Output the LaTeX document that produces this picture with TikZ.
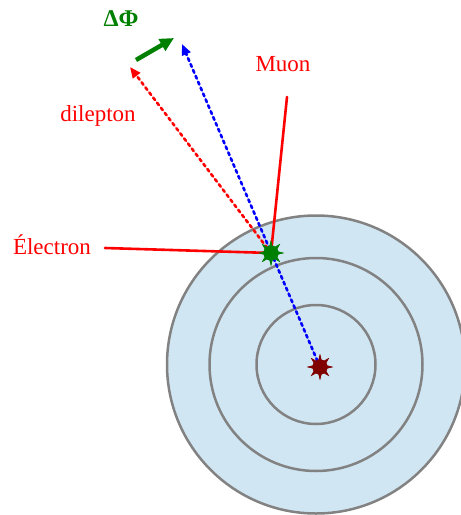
\documentclass[tikz,border=0pt]{standalone}
\usepackage{fontspec}
\setmainfont{Liberation Serif}
\usetikzlibrary{shapes.geometric,arrows.meta}
\definecolor{detfill}{HTML}{D1E6F3}
\definecolor{detline}{HTML}{828282}
\definecolor{vtxred}{HTML}{800000}
\definecolor{vtxgreen}{HTML}{008000}
\tikzset{
  vertex/.style={star, star points=8, star point ratio=2.4, minimum size=26pt, inner sep=0pt, fill=#1},
  core/.style={circle, minimum size=15pt, inner sep=0pt, fill=#1},
  lbl/.style={text=red, font=\fontsize{23}{26}\selectfont},
  track/.style={line width=2.6pt, dash pattern=on 3pt off 3.4pt, -{Triangle[length=11pt,width=9pt]}}
}
\begin{document}
\begin{tikzpicture}[x=1pt, y=-1pt, line cap=round, line join=round]
\useasboundingbox (0,0) rectangle (461,515);
\clip (0,0) rectangle (461,515);
\def\cx{316} \def\cy{364.5}
% detector layers
\foreach \r in {149,106.5,59.5}
  \draw[detline, fill=detfill, line width=2.5pt] (\cx,\cy) circle (\r);
% vertices
\node[vertex=vtxred] (pvstar) at (320,367) {};
\node[core=vtxred] (pv) at (320,367) {};
\node[vertex=vtxgreen] (svstar) at (271,253) {};
\node[core=vtxgreen] (sv) at (271,253) {};
\coordinate (bluetip) at (182,44);
\coordinate (redtip) at (130,67);
\coordinate (muonend) at (287,97);
\coordinate (eleend) at (105,248);
\coordinate (dphia) at (136,60);
\coordinate (dphib) at (174,38);
% tracks
\draw[blue, track] (pv.center) -- (bluetip);
\draw[red, track] (sv.center) -- (redtip);
\draw[red, line width=2.6pt] (muonend) -- (sv.center);
\draw[red, line width=2.6pt] (eleend) -- (sv.center);
\draw[vtxgreen, line width=4.5pt, line cap=butt, -{Triangle[length=14pt,width=13pt]}] (dphia) -- (dphib);
% redraw vertices on top
\node[vertex=vtxred] at (pv) {};
\node[core=vtxred] at (pv) {};
\node[vertex=vtxgreen] at (sv) {};
\node[core=vtxgreen] at (sv) {};
% labels
\node[text=vtxgreen, font=\fontsize{24}{27}\selectfont\bfseries] (dphi) at (121,19) {ΔΦ};
\node[lbl] (muon) at (283,64) {Muon};
\node[lbl] (dilep) at (98,116) {dilepton};
\node[lbl] (ele) at (52,245) {Électron};
\end{tikzpicture}
\end{document}
